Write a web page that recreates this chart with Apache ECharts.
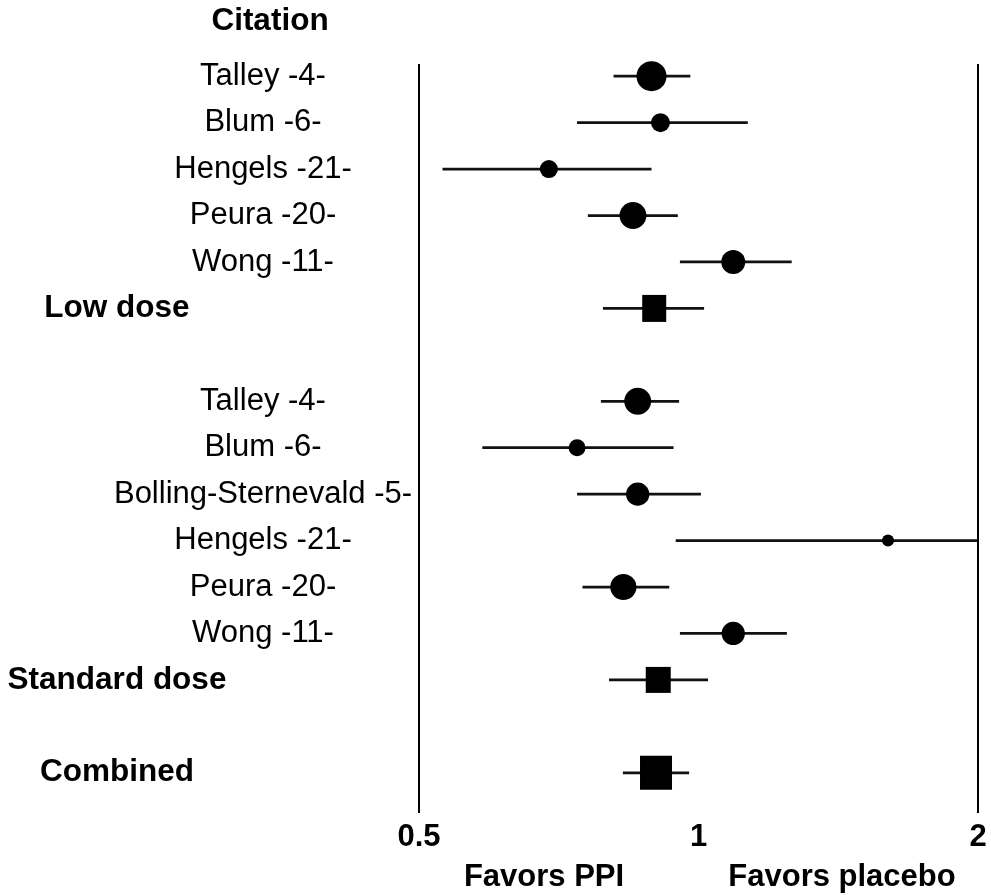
<!DOCTYPE html>
<html>
<head>
<meta charset="utf-8">
<script src="https://cdn.jsdelivr.net/npm/echarts@6/dist/echarts.min.js"></script>
<style>
html,body{margin:0;padding:0;background:#fff;}
#chart{width:991px;height:895px;}
</style>
</head>
<body>
<div id="chart"></div>
<script>
// ---- data ----
var lowStudies = ['Talley -4-', 'Blum -6-', 'Hengels -21-', 'Peura -20-', 'Wong -11-'];
var lowEst = [0.89, 0.91, 0.69, 0.85, 1.09];
var lowLo  = [0.81, 0.74, 0.53, 0.76, 0.955];
var lowHi  = [0.98, 1.13, 0.89, 0.95, 1.26];
var lowWeight = [25, 10, 9, 20, 16];

var stdStudies = ['Talley -4-', 'Blum -6-', 'Bolling-Sternevald -5-', 'Hengels -21-', 'Peura -20-', 'Wong -11-'];
var stdEst = [0.86, 0.74, 0.86, 1.60, 0.83, 1.09];
var stdLo  = [0.785, 0.585, 0.74, 0.945, 0.75, 0.955];
var stdHi  = [0.953, 0.94, 1.006, 2.0, 0.93, 1.245];
var stdWeight = [20, 8, 15, 4, 19, 15];

var pooledNames = ['Low dose', 'Standard dose', 'Combined'];
var pooledEst = [0.896, 0.905, 0.900];
var pooledLo  = [0.789, 0.801, 0.829];
var pooledHi  = [1.014, 1.024, 0.977];

var tickValues = [0.5, 1, 2];
var tickLabels = ['0.5', '1', '2'];
var headerText = 'Citation';
var favorLeft = 'Favors PPI';
var favorRight = 'Favors placebo';

// ---- build rows ----
var rows = [].concat(lowStudies, [pooledNames[0], ''], stdStudies, [pooledNames[1], ''], [pooledNames[2]]);
var lowStart = 0;
var lowPoolRow = lowStudies.length;
var stdStart = lowPoolRow + 2;
var stdPoolRow = stdStart + stdStudies.length;
var combRow = stdPoolRow + 2;
var headerRows = {};
headerRows[lowPoolRow] = 1; headerRows[stdPoolRow] = 1; headerRows[combRow] = 1;

var ciData = [], circleData = [], squareData = [];
lowStudies.forEach(function (s, i) {
  ciData.push([lowLo[i], lowHi[i], lowStart + i]);
  circleData.push([lowEst[i], lowStart + i, lowWeight[i]]);
});
stdStudies.forEach(function (s, i) {
  ciData.push([stdLo[i], stdHi[i], stdStart + i]);
  circleData.push([stdEst[i], stdStart + i, stdWeight[i]]);
});
var poolRows = [lowPoolRow, stdPoolRow, combRow];
var poolSizes = [[24, 27], [25, 26], [32, 34]];
pooledNames.forEach(function (n, i) {
  ciData.push([pooledLo[i], pooledHi[i], poolRows[i]]);
  squareData.push({ value: [pooledEst[i], poolRows[i]], symbolSize: poolSizes[i] });
});

var FONT = '"Liberation Sans", Arial, Helvetica, sans-serif';
var chart = echarts.init(document.getElementById('chart'), null, { renderer: 'canvas' });

var option = {
  animation: false,
  backgroundColor: '#fff',
  grid: [
    { left: 419, right: 13, top: 53, bottom: 99 },
    { left: 419, right: 13, top: 64, bottom: 82 }
  ],
  xAxis: [
    { gridIndex: 0, type: 'log', logBase: 2, min: 0.5, max: 2, show: false },
    {
      gridIndex: 1, type: 'log', logBase: 2, min: 0.5, max: 2,
      axisLine: { show: false }, axisTick: { show: false }, splitLine: { show: false },
      axisLabel: {
        show: true, margin: 9, color: '#000',
        fontFamily: FONT, fontWeight: 'bold', fontSize: 31,
        formatter: function (v) {
          for (var i = 0; i < tickValues.length; i++) {
            if (Math.abs(tickValues[i] - v) < 1e-6) return tickLabels[i];
          }
          return '';
        }
      }
    }
  ],
  yAxis: [
    {
      gridIndex: 0, type: 'category', inverse: true, data: rows,
      axisLine: { show: false }, axisTick: { show: false }, splitLine: { show: false },
      axisLabel: {
        show: true, interval: 0, align: 'center', margin: 156,
        color: '#000', fontFamily: FONT, fontSize: 31,
        formatter: function (v, idx) {
          if (headerRows[idx]) return '{h|' + v + '}';
          return v;
        },
        rich: {
          h: { fontFamily: FONT, fontWeight: 'bold', fontSize: 31.5, color: '#000', padding: [0, 292, 0, 0] }
        }
      }
    },
    { gridIndex: 1, type: 'value', show: false, min: 0, max: 1 }
  ],
  graphic: [
    { type: 'text', x: 270, y: 21, style: { text: headerText, fontFamily: FONT, fontWeight: 'bold', fontSize: 31.5, fill: '#000', align: 'center', verticalAlign: 'middle' } },
    { type: 'text', x: 544, y: 877, style: { text: favorLeft, fontFamily: FONT, fontWeight: 'bold', fontSize: 31, fill: '#000', align: 'center', verticalAlign: 'middle' } },
    { type: 'text', x: 842, y: 877, style: { text: favorRight, fontFamily: FONT, fontWeight: 'bold', fontSize: 31, fill: '#000', align: 'center', verticalAlign: 'middle' } }
  ],
  series: [
    {
      type: 'scatter', xAxisIndex: 1, yAxisIndex: 1, data: [],
      markLine: {
        silent: true, symbol: 'none', label: { show: false },
        lineStyle: { color: '#000', width: 2, type: 'solid' },
        data: [{ xAxis: tickValues[0] }, { xAxis: tickValues[tickValues.length - 1] }]
      }
    },
    {
      type: 'custom', xAxisIndex: 0, yAxisIndex: 0, data: ciData,
      encode: { x: [0, 1], y: 2 },
      renderItem: function (params, api) {
        var a = api.coord([api.value(0), api.value(2)]);
        var b = api.coord([api.value(1), api.value(2)]);
        return { type: 'line', shape: { x1: a[0], y1: a[1], x2: b[0], y2: b[1] }, style: { stroke: '#111', lineWidth: 2.8 } };
      },
      z: 2
    },
    {
      type: 'scatter', xAxisIndex: 0, yAxisIndex: 0, data: circleData,
      symbol: 'circle',
      symbolSize: function (v) { return 6 * Math.sqrt(v[2]); },
      itemStyle: { color: '#000', opacity: 1 },
      z: 3
    },
    {
      type: 'scatter', xAxisIndex: 0, yAxisIndex: 0, data: squareData,
      symbol: 'rect',
      itemStyle: { color: '#000', opacity: 1 },
      z: 3
    }
  ]
};
chart.setOption(option);
</script>
</body>
</html>
